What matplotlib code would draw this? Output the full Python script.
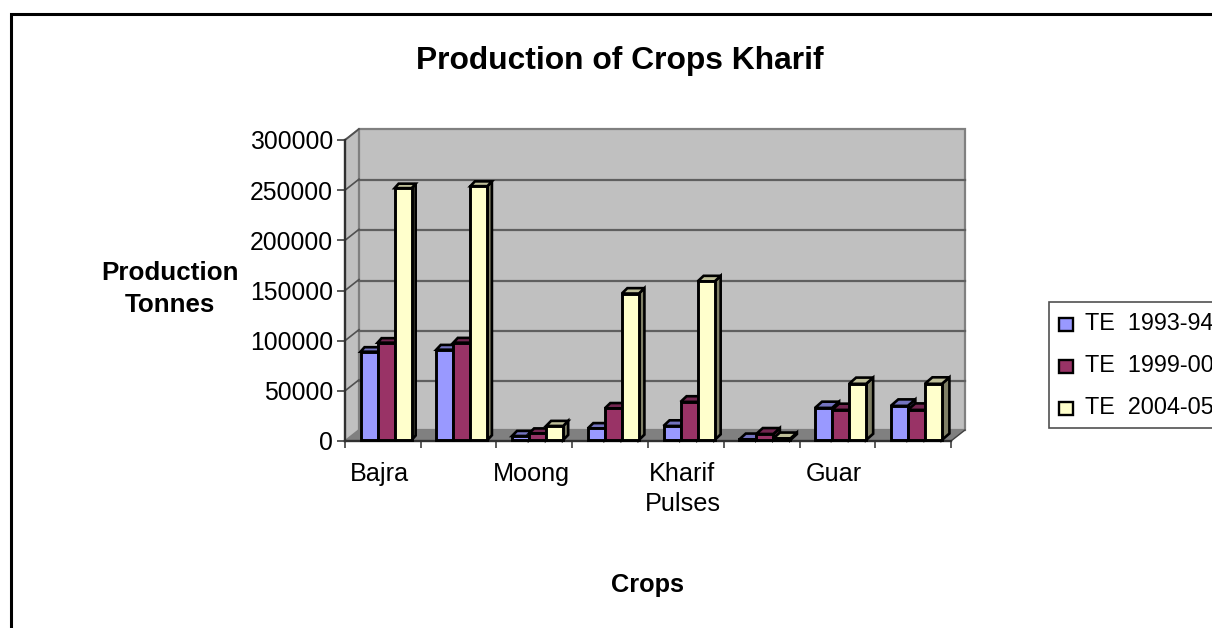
import matplotlib
matplotlib.use("Agg")
import matplotlib.pyplot as plt
from matplotlib.patches import Polygon, Rectangle

plt.rcParams['font.family'] = ['Liberation Sans', 'DejaVu Sans']

categories = ["Bajra", "", "Moong", "", "Kharif\nPulses", "", "Guar", ""]
series_names = ["TE  1993-94", "TE  1999-00", "TE  2004-05"]
te_1993 = [88000, 90000, 4000, 11500, 14000, 500, 32000, 34000]
te_1999 = [97000, 97000, 6500, 31500, 38000, 6000, 30000, 30000]
te_2004 = [251000, 253000, 14000, 146000, 158000, 1500, 56000, 56000]
y_ticks = [0, 50000, 100000, 150000, 200000, 250000, 300000]

fronts = ["#9999FF", "#993366", "#FFFFCC"]
tops = ["#7373BF", "#732650", "#BFBF99"]
sides = ["#4D4D80", "#4D1A33", "#808066"]
WALL = "#C0C0C0"
FLOOR = "#808080"

W, H = 1212, 628
fig = plt.figure(figsize=(W / 100, H / 100), dpi=100, facecolor="white")

# pixel canvas for the frame, walls, legend and titles
bg = fig.add_axes([0, 0, 1, 1])
bg.set_xlim(0, W)
bg.set_ylim(H, 0)
bg.axis("off")

# front plane of the fake 3D box
x0, x1, y0, y1 = 345, 951, 441, 140
ddx, ddy = 14, 11
ax = fig.add_axes([x0 / W, 1 - y0 / H, (x1 - x0) / W, (y0 - y1) / H])
ax.patch.set_alpha(0)
ax.set_xlim(0, 8)
ax.set_ylim(0, 300000)

bg.add_patch(Rectangle((11, 14), W + 20, H + 20, fc="white", ec="black", lw=2.2))

# walls and floor
bg.add_patch(Polygon([(x0, y0), (x0 + ddx, y0 - ddy), (x1 + ddx, y0 - ddy), (x1, y0)],
                     fc=FLOOR, ec="none"))
bg.add_patch(Polygon([(x0, y0), (x0, y1), (x0 + ddx, y1 - ddy), (x0 + ddx, y0 - ddy)],
                     fc=WALL, ec=FLOOR, lw=1.4))
bg.add_patch(Rectangle((x0 + ddx, y1 - ddy), x1 - x0, y0 - y1, fc=WALL, ec=FLOOR, lw=1.6))
bg.plot([x1, x1 + ddx], [y0, y0 - ddy], color="#404040", lw=1)

# gridlines, taken through the value scale
for v in y_ticks[1:-1]:
    py = y0 - (y0 - y1) * v / 300000
    bg.plot([x0 + ddx, x1 + ddx], [py - ddy + 1, py - ddy + 1], color="#5F5F5F", lw=1.6)
for v in y_ticks[1:]:
    py = y0 - (y0 - y1) * v / 300000
    bg.plot([x0, x0 + ddx], [py, py - ddy], color="#505050", lw=1.2)

# bars
bar_w = 0.225
start = 0.205
lift = 1000
px_x = 8 / (x1 - x0)
px_y = 300000 / (y0 - y1)

for k, vals in enumerate([te_1993, te_1999, te_2004]):
    for i, v in enumerate(vals):
        left = i + start + k * bar_w
        right = left + bar_w
        base = lift
        top = v + lift
        dx = (4 + 3.5 * i / 7) * px_x
        dy = (4.5 + 2 * i / 7) * px_y
        ax.add_patch(Polygon([(right, base), (right + dx, base + dy), (right + dx, top + dy), (right, top)],
                             fc=sides[k], ec="black", lw=1.9, clip_on=False, zorder=3 + k))
        ax.add_patch(Polygon([(left, top), (left + dx, top + dy), (right + dx, top + dy), (right, top)],
                             fc=tops[k], ec="black", lw=1.9, clip_on=False, zorder=3 + k))
    ax.bar([i + start + k * bar_w for i in range(8)], vals, bar_w, bottom=lift, align="edge",
           color=fronts[k], edgecolor="black", lw=2.1, clip_on=False, zorder=3 + k)

# axes
for s in ["top", "right"]:
    ax.spines[s].set_visible(False)
for s in ["left", "bottom"]:
    ax.spines[s].set_color("#303030")
    ax.spines[s].set_linewidth(1.7)
ax.set_yticks(y_ticks)
ax.set_yticklabels([str(v) for v in y_ticks], fontsize=17.8)
ax.tick_params(axis="y", length=5.5, width=1.2, color="#404040", pad=3)
ax.set_xticks(range(9))
ax.set_xticklabels([])
ax.tick_params(axis="x", length=5, width=1.2, color="#404040")
ax.set_xticks([i + 0.455 for i in range(8)], minor=True)
ax.set_xticklabels(categories, minor=True, fontsize=18.2, linespacing=1.35)
ax.tick_params(axis="x", which="minor", length=0, pad=15)

# titles
bg.text(620, 57, "Production of Crops Kharif", fontsize=22.9, fontweight="bold", ha="center", va="center_baseline")
bg.text(170, 289, "Production\nTonnes", fontsize=18.7, fontweight="bold", ha="center", va="center",
        linespacing=1.4)
bg.text(648, 585, "Crops", fontsize=18.3, fontweight="bold", ha="center", va="center")

# legend, runs up to the right side like the original
bg.add_patch(Rectangle((1049, 302), 200, 126, fc="white", ec="#505050", lw=1.2))
for k, name in enumerate(series_names):
    cy = 324 + k * 42
    bg.add_patch(Rectangle((1059, cy - 6), 14, 13, fc=fronts[k], ec="black", lw=1.7))
    bg.text(1085, cy - 1, name, fontsize=16.8, ha="left", va="center")

fig.savefig("out.png", dpi=100)
